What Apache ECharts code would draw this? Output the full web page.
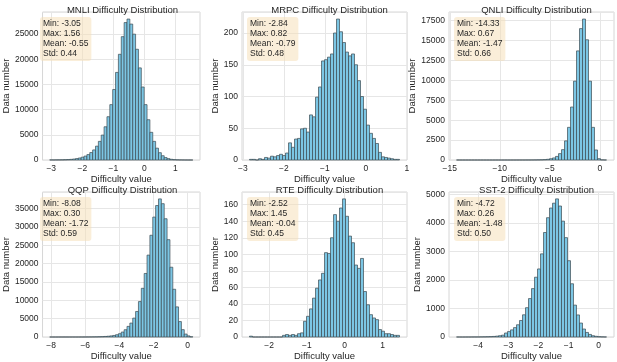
<!DOCTYPE html>
<html>
<head>
<meta charset="utf-8">
<script src="https://cdn.jsdelivr.net/npm/echarts@6/dist/echarts.min.js"></script>
<style>
html, body { margin: 0; padding: 0; background: #fff; }
#chart { width: 617px; height: 362px; }
</style>
</head>
<body>
<div id="chart"></div>
<script>
// one panel per dataset, 50 equal bins between min and max
const names = ["MNLI", "MRPC", "QNLI", "QQP", "RTE", "SST-2"];
const mins = [-3.05, -2.84, -14.33, -8.08, -2.52, -4.72];
const maxs = [1.56, 0.82, 0.67, 0.30, 1.45, 0.26];
const means = [-0.55, -0.79, -1.47, -1.72, -0.04, -1.48];
const stds = [0.44, 0.48, 0.66, 0.59, 0.45, 0.50];

const mnliCounts = [20, 15, 25, 30, 40, 60, 90, 130, 190, 280,
  400, 560, 780, 1080, 1480, 2000, 2750, 3700, 4950, 6600,
  8600, 11000, 14000, 17400, 21000, 24500, 27300, 28000, 27000, 25000,
  22000, 18300, 14500, 11000, 8000, 5500, 3700, 2350, 1450, 850,
  480, 270, 140, 75, 40, 20, 10, 6, 3, 2];
const mrpcCounts = [1, 1, 0, 2, 1, 4, 3, 6, 5, 7,
  9, 7, 11, 27, 20, 33, 34, 49, 50, 44,
  71, 68, 99, 115, 156, 158, 162, 167, 200, 222,
  202, 185, 170, 164, 167, 150, 125, 100, 80, 55,
  42, 34, 26, 12, 5, 4, 3, 2, 1, 1];
const qnliCounts = [1, 0, 0, 0, 0, 0, 0, 0, 0, 0,
  0, 0, 0, 1, 0, 0, 1, 0, 1, 1,
  2, 2, 3, 4, 5, 8, 12, 20, 30, 50,
  90, 160, 260, 450, 800, 1300, 2400, 4100, 6650, 9900,
  13700, 16500, 17700, 15100, 9900, 4100, 1260, 170, 20, 5];
const qqpCounts = [1, 0, 0, 1, 1, 1, 2, 2, 3, 4,
  6, 8, 12, 18, 25, 35, 50, 75, 100, 150,
  210, 300, 420, 620, 900, 1350, 1980, 2890, 3790, 5140,
  6950, 9650, 13260, 17300, 22300, 27700, 32650, 35800, 37600, 36300,
  32200, 26500, 19000, 13000, 8200, 4200, 2000, 800, 300, 60];
const rteCounts = [1, 0, 0, 0, 0, 0, 0, 0, 0, 0,
  0, 2, 3, 2, 3, 2, 4, 5, 19, 25,
  34, 47, 59, 69, 77, 102, 101, 120, 148, 140,
  156, 167, 146, 122, 114, 87, 83, 95, 55, 39,
  27, 23, 21, 9, 7, 4, 4, 3, 2, 2];
const sstCounts = [1, 0, 0, 1, 1, 2, 2, 3, 5, 7,
  10, 14, 20, 30, 45, 65, 140, 190, 250, 330,
  430, 580, 780, 1030, 1350, 1700, 2100, 2390, 2920, 3670,
  4190, 4530, 4700, 4850, 4600, 4070, 3490, 2680, 1870, 1120,
  775, 490, 280, 160, 90, 45, 25, 12, 6, 2];
const counts = [mnliCounts, mrpcCounts, qnliCounts, qqpCounts, rteCounts, sstCounts];

const xTicks = [[-3, -2, -1, 0, 1], [-3, -2, -1, 0, 1], [-15, -10, -5, 0],
  [-8, -6, -4, -2, 0], [-2, -1, 0, 1], [-4, -3, -2, -1, 0]];
const yStep = [5000, 50, 2500, 5000, 20, 1000];
const yNameGap = [23, 17, 26, 26, 17, 21];

const colLeft = [35, 242, 449];
const rowTop = [12, 192];
const W = 165, H = 148;
const font = "'Liberation Sans', Arial, sans-serif";
const ink = "#262626";

const grids = [], xAxes = [], yAxes = [], series = [], titles = [];

names.forEach((name, k) => {
  const left = colLeft[k % 3], top = rowTop[Math.floor(k / 3)];
  const lo = mins[k], hi = maxs[k], pad = (hi - lo) * 0.05;
  const w = (hi - lo) / counts[k].length;
  const peak = Math.max(...counts[k]);

  grids.push({ left: left, top: top, width: W, height: H, show: true,
    borderColor: "#d6d6d6", borderWidth: 1, backgroundColor: "#fff" });

  xAxes.push({
    gridIndex: k, type: "value", min: lo - pad, max: hi + pad,
    name: "Difficulty value", nameLocation: "middle", nameGap: 14,
    nameTextStyle: { fontFamily: font, fontSize: 9.5, color: ink },
    axisLine: { show: false }, axisTick: { show: false, customValues: xTicks[k] },
    axisLabel: { customValues: xTicks[k], fontFamily: font, fontSize: 8.5, color: ink, margin: 4,
      formatter: v => (v < 0 ? "\u2212" + (-v) : String(v)) },
    splitLine: { show: true, lineStyle: { color: "#e6e6e6", width: 1 } }
  });
  yAxes.push({
    gridIndex: k, type: "value", min: 0, max: peak * 1.05, interval: yStep[k],
    name: "Data number", nameLocation: "middle", nameGap: yNameGap[k],
    nameTextStyle: { fontFamily: font, fontSize: 9.5, color: ink },
    axisLine: { show: false }, axisTick: { show: false },
    axisLabel: { fontFamily: font, fontSize: 8.5, color: ink, margin: 4,
      showMaxLabel: false, formatter: v => String(v) },
    splitLine: { show: true, lineStyle: { color: "#e6e6e6", width: 1 } }
  });

  series.push({
    type: "custom", xAxisIndex: k, yAxisIndex: k,
    data: counts[k].map((c, i) => [lo + i * w, lo + (i + 1) * w, c]),
    encode: { x: [0, 1], y: 2 },
    renderItem: (params, api) => {
      const a = api.coord([api.value(0), api.value(2)]);
      const b = api.coord([api.value(1), 0]);
      return { type: "rect",
        shape: { x: a[0], y: a[1], width: b[0] - a[0], height: b[1] - a[1] },
        style: { fill: "#7cc6e4", stroke: "#3c4a52", lineWidth: 0.7 } };
    }
  });

  titles.push({ text: name + " Difficulty Distribution", left: left + W / 2, top: top - 12,
    textAlign: "center",
    textStyle: { fontFamily: font, fontSize: 9.5, fontWeight: "normal", color: ink } });
  titles.push({
    text: "Min: " + lo.toFixed(2) + "\nMax: " + hi.toFixed(2) + "\nMean: " + means[k].toFixed(2) +
      "\nStd: " + stds[k].toFixed(2),
    left: left + 5, top: top + 5, padding: [2, 3], borderRadius: 3,
    backgroundColor: "rgba(245,222,179,0.5)",
    textStyle: { fontFamily: font, fontSize: 8.5, lineHeight: 10, fontWeight: "normal", color: ink }
  });
});

const chart = echarts.init(document.getElementById("chart"), null, { renderer: "canvas" });
chart.setOption({
  animation: false,
  backgroundColor: "#fff",
  title: titles,
  grid: grids,
  xAxis: xAxes,
  yAxis: yAxes,
  series: series
});
</script>
</body>
</html>
